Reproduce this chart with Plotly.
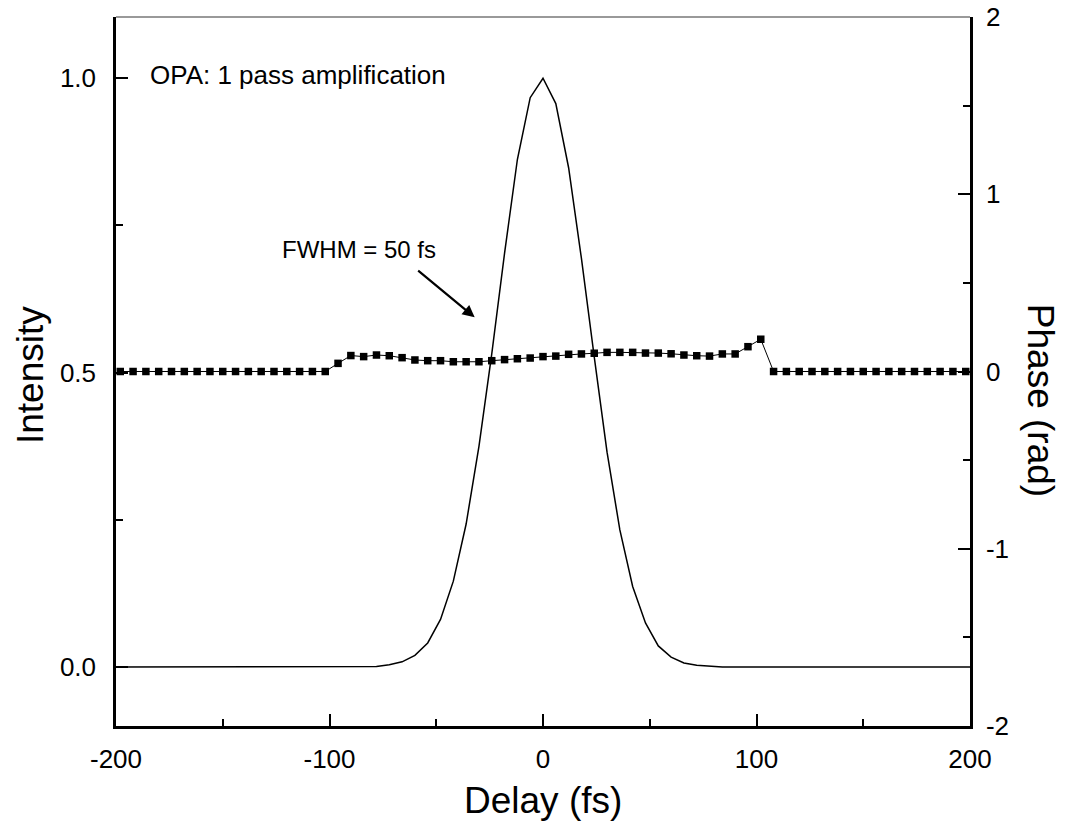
import plotly.graph_objects as go

# Intensity trace (delay in fs)
int_delay = [-204, -198, -192, -186, -180, -174, -168, -162, -156, -150, -144, -138, -132, -126,
             -120, -114, -108, -102, -96, -90, -84, -78, -72, -66, -60, -54, -48, -42, -36, -30,
             -24, -18, -12, -6, 0, 6, 12, 18, 24, 30, 36, 42, 48, 54, 60, 66, 72, 78, 84, 90,
             96, 102, 108, 114, 120, 126, 132, 138, 144, 150, 156, 162, 168, 174, 180, 186, 192,
             198, 204]
intensity = [0.0, 0.0, 0.0, 0.0, 0.0, 0.0, 0.0, 0.0, 0.0, 0.0, 0.0, 0.0, 0.0, 0.0,
             0.0, 0.0, 0.0, 0.0, 0.0, 0.0, 0.0, 0.001, 0.004, 0.009, 0.020, 0.041, 0.081, 0.146,
             0.243, 0.375, 0.532, 0.703, 0.862, 0.967, 1.000, 0.957, 0.848, 0.694, 0.527, 0.365,
             0.233, 0.137, 0.075, 0.036, 0.017, 0.007, 0.003, 0.001, 0.0, 0.0,
             0.0, 0.0, 0.0, 0.0, 0.0, 0.0, 0.0, 0.0, 0.0, 0.0, 0.0, 0.0, 0.0, 0.0, 0.0, 0.0, 0.0,
             0.0, 0.0]

# Phase trace (rad)
phase_delay = [-198, -192, -186, -180, -174, -168, -162, -156, -150, -144, -138, -132, -126,
               -120, -114, -108, -102, -96, -90, -84, -78, -72, -66, -60, -54, -48, -42, -36,
               -30, -24, -18, -12, -6, 0, 6, 12, 18, 24, 30, 36, 42, 48, 54, 60, 66, 72, 78,
               84, 90, 96, 102, 108, 114, 120, 126, 132, 138, 144, 150, 156, 162, 168, 174,
               180, 186, 192, 198]
phase = [0.0, 0.0, 0.0, 0.0, 0.0, 0.0, 0.0, 0.0, 0.0, 0.0, 0.0, 0.0, 0.0,
         0.0, 0.0, 0.0, 0.0, 0.046, 0.090, 0.084, 0.093, 0.089, 0.078, 0.065, 0.061, 0.061,
         0.055, 0.055, 0.055, 0.061, 0.067, 0.072, 0.076, 0.084, 0.087, 0.097, 0.099, 0.103,
         0.108, 0.108, 0.108, 0.104, 0.104, 0.100, 0.093, 0.089, 0.087, 0.099, 0.099, 0.140,
         0.182, 0.0, 0.0, 0.0, 0.0, 0.0, 0.0, 0.0, 0.0, 0.0, 0.0, 0.0, 0.0, 0.0, 0.0, 0.0, 0.0]

x_ticks = [-200, -100, 0, 100, 200]
y_ticks = [0.0, 0.5, 1.0]
y2_ticks = [-2, -1, 0, 1, 2]

FONT = "Liberation Sans, Arial, Helvetica, sans-serif"
TICK_SIZE = 26
TITLE_SIZE = 37

fig = go.Figure()
fig.add_trace(go.Scatter(x=int_delay, y=intensity, mode="lines",
                         line=dict(color="black", width=1.5), showlegend=False,
                         cliponaxis=True))
fig.add_trace(go.Scatter(x=phase_delay, y=phase, mode="lines+markers", yaxis="y2",
                         line=dict(color="black", width=1),
                         marker=dict(symbol="square", size=7.5, color="black"),
                         showlegend=False, cliponaxis=False))

axis_common = dict(showgrid=False, zeroline=False, ticks="inside", ticklen=12, tickwidth=2,
                   tickcolor="black", showline=True, linecolor="black", linewidth=2.5,
                   automargin=False,
                   tickfont=dict(family=FONT, size=TICK_SIZE, color="black"))

fig.update_layout(
    width=1070, height=829,
    margin=dict(l=116, r=100, t=17, b=103),
    paper_bgcolor="white", plot_bgcolor="white",
    xaxis=dict(range=[-200, 200], tickvals=x_ticks, ticktext=[str(v) for v in x_ticks],
               minor=dict(ticks="inside", ticklen=7, tickwidth=2, tickcolor="black", dtick=50,
                          tick0=-200),
               ticklabelstandoff=8, **axis_common),
    yaxis=dict(range=[-0.1, 1.104], tickvals=y_ticks, ticktext=["0.0", "0.5", "1.0"],
               minor=dict(ticks="inside", ticklen=7, tickwidth=2, tickcolor="black",
                          dtick=0.25, tick0=0),
               ticklabelstandoff=12, **axis_common),
    yaxis2=dict(range=[-2, 2], overlaying="y", side="right", tickvals=y2_ticks,
                ticktext=[str(v) for v in y2_ticks],
                minor=dict(ticks="inside", ticklen=7, tickwidth=2, tickcolor="black",
                           dtick=0.5, tick0=0),
                ticklabelstandoff=8, **axis_common),
    shapes=[dict(type="line", xref="paper", yref="paper", x0=0, x1=1, y0=1, y1=1,
                 line=dict(color="#777777", width=1.5))],
    annotations=[
        dict(text="OPA: 1 pass amplification", xref="x", yref="y", x=-185, y=1.005,
             xanchor="left", yanchor="middle", showarrow=False,
             font=dict(family=FONT, size=TICK_SIZE, color="black")),
        dict(text="FWHM = 50 fs", xref="x", yref="y", x=-123, y=0.71,
             xanchor="left", yanchor="middle", showarrow=False,
             font=dict(family=FONT, size=24, color="black")),
        dict(text="", xref="x", yref="y", x=-32, y=0.594, showarrow=True,
             arrowhead=2, arrowsize=1.1, arrowwidth=2.2, arrowcolor="black",
             ax=-58, ay=-48),
        dict(text="Intensity", xref="paper", yref="paper", x=-0.1007, y=0.495,
             xanchor="center", yanchor="middle", textangle=-90, showarrow=False,
             font=dict(family=FONT, size=TITLE_SIZE, color="black")),
        dict(text="Phase (rad)", xref="paper", yref="paper", x=1.082, y=0.46,
             xanchor="center", yanchor="middle", textangle=90, showarrow=False,
             font=dict(family=FONT, size=TITLE_SIZE, color="black")),
        dict(text="Delay (fs)", xref="paper", yref="paper", x=0.5, y=-0.1044,
             xanchor="center", yanchor="middle", showarrow=False,
             font=dict(family=FONT, size=TITLE_SIZE, color="black")),
    ],
)

fig.write_html("out.html")
